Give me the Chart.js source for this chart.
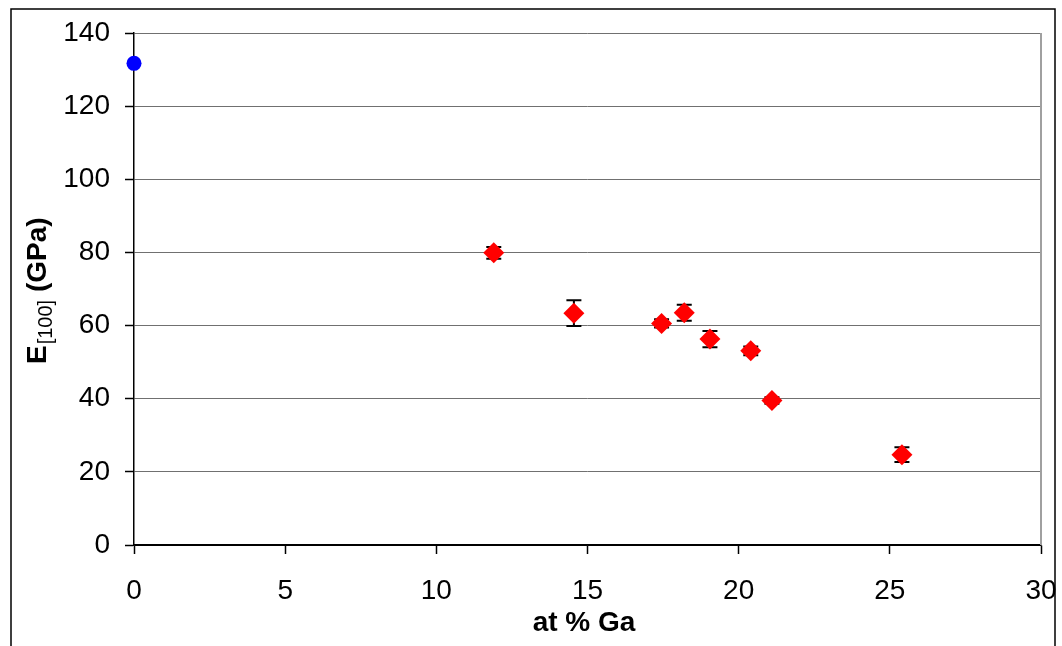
<!DOCTYPE html>
<html>
<head>
<meta charset="utf-8">
<script src="https://cdn.jsdelivr.net/npm/chart.js@4/dist/chart.umd.min.js"></script>
<style>
  html, body { margin: 0; padding: 0; background: #fff; }
  #wrap { width: 1062px; height: 646px; position: relative; }
</style>
</head>
<body>
<div id="wrap"><canvas id="myChart"></canvas></div>
<script>
// data
const pureFeX = [0];
const pureFeE = [131.7];

const gaPct = [11.9, 14.55, 17.45, 18.2, 19.05, 20.4, 21.1, 25.4];
const modulus = [79.9, 63.4, 60.6, 63.5, 56.3, 53.1, 39.5, 24.7];
const modErr = [1.6, 3.5, 1.1, 2.2, 2.2, 1.2, 0.9, 2.0];

const xTicks = [0, 5, 10, 15, 20, 25, 30];
const yTicks = [0, 20, 40, 60, 80, 100, 120, 140];

const fontFam = "'Liberation Sans', Arial, sans-serif";

//error bars, drawn under the markers
const errorBars = {
  id: "errorBars",
  beforeDatasetsDraw(chart) {
    const ctx = chart.ctx;
    const xs = chart.scales.x;
    const ys = chart.scales.y;
    ctx.save();
    ctx.strokeStyle = "#000";
    ctx.lineWidth = 2;
    gaPct.forEach((g, i) => {
      const px = xs.getPixelForValue(g);
      const top = ys.getPixelForValue(modulus[i] + modErr[i]);
      const bot = ys.getPixelForValue(modulus[i] - modErr[i]);
      ctx.beginPath();
      ctx.moveTo(px, top); ctx.lineTo(px, bot);
      ctx.moveTo(px - 7.5, top); ctx.lineTo(px + 7.5, top);
      ctx.moveTo(px - 7.5, bot); ctx.lineTo(px + 7.5, bot);
      ctx.stroke();
    });
    // right edge of plot area
    const a = chart.chartArea;
    ctx.strokeStyle = "#a0a0a0";
    ctx.lineWidth = 2;
    ctx.beginPath();
    ctx.moveTo(a.right, a.top); ctx.lineTo(a.right, a.bottom);
    ctx.stroke();
    ctx.restore();
  }
};

// axis titles + outer frame
const decorations = {
  id: "decorations",
  afterDraw(chart) {
    const ctx = chart.ctx;
    ctx.save();
    ctx.fillStyle = "#000";

    // x title
    ctx.font = "bold 28px " + fontFam;
    ctx.textAlign = "center";
    ctx.textBaseline = "alphabetic";
    ctx.fillText("at % Ga", 584, 631);

    // y title with subscript
    ctx.translate(46, 364);
    ctx.rotate(-Math.PI / 2);
    ctx.textAlign = "left";
    ctx.font = "bold 28px " + fontFam;
    ctx.fillText("E", 0, 0);
    let w = ctx.measureText("E").width;
    ctx.font = "20px " + fontFam;
    ctx.fillText("[100]", w + 1, 6);
    w += 1 + ctx.measureText("[100]").width;
    ctx.font = "bold 28px " + fontFam;
    ctx.fillText(" (GPa)", w, 0);
    ctx.restore();

    // outer frame
    ctx.save();
    ctx.strokeStyle = "#000";
    ctx.lineWidth = 1.5;
    ctx.beginPath();
    ctx.moveTo(11, 660); ctx.lineTo(11, 9); ctx.lineTo(1055, 9); ctx.lineTo(1055, 660);
    ctx.stroke();
    ctx.restore();
  }
};

const datasets = [
  {
    label: "Fe",
    data: pureFeX.map((x, i) => ({ x: x, y: pureFeE[i] })),
    pointStyle: "circle",
    pointRadius: 7.5,
    backgroundColor: "#0000ff",
    borderColor: "#0000ff",
    borderWidth: 0,
    showLine: false,
    clip: false
  },
  {
    label: "Fe-Ga",
    data: gaPct.map((x, i) => ({ x: x, y: modulus[i] })),
    pointStyle: "rectRot",
    pointRadius: 10.5,
    backgroundColor: "#ff0000",
    borderColor: "#ff0000",
    borderWidth: 0,
    showLine: false,
    clip: false
  }
];

const config = {
  type: "scatter",
  data: { datasets },
  options: {
    responsive: true,
    maintainAspectRatio: false,
    animation: false,
    devicePixelRatio: 1,
    layout: { padding: { left: 0, right: 21, top: 33, bottom: 0 } },
    plugins: { legend: { display: false }, tooltip: { enabled: false } },
    scales: {
      x: {
        type: "linear",
        min: 0,
        max: 30,
        afterBuildTicks: (s) => { s.ticks = xTicks.map(v => ({ value: v })); },
        afterFit: (s) => { s.height = 101; s.paddingLeft = 0; s.paddingRight = 0; },
        ticks: { color: "#000", font: { size: 28, family: fontFam }, padding: 20, maxRotation: 0 },
        grid: { drawOnChartArea: false, drawTicks: true, tickLength: 9, tickColor: "#000", tickWidth: 1.5 },
        border: { color: "#000", width: 1.5 }
      },
      y: {
        min: 0,
        max: 140,
        afterBuildTicks: (s) => { s.ticks = yTicks.map(v => ({ value: v })); },
        afterFit: (s) => { s.width = 134; s.paddingTop = 0; s.paddingBottom = 0; },
        ticks: { color: "#000", font: { size: 28, family: fontFam }, padding: 15 },
        grid: {
          color: (c) => c.tick && c.tick.value === 0 ? "#000" : "#707070",
          lineWidth: 1,
          tickLength: 9,
          tickColor: "#000",
          tickWidth: 1.5
        },
        border: { color: "#000", width: 1.5 }
      }
    }
  },
  plugins: [errorBars, decorations]
};

const chart = document.getElementById("myChart");
chart.style.backgroundColor = "white";
const myChart = new Chart(chart, config);
</script>
</body>
</html>
